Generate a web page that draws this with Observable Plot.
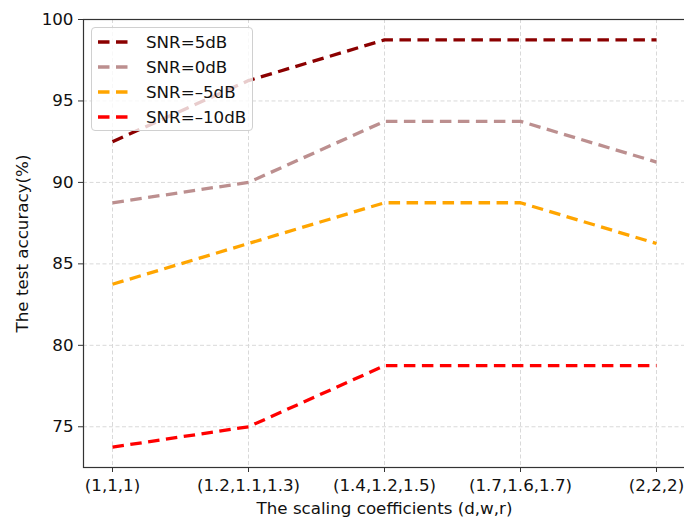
<!DOCTYPE html>
<html>
<head>
<meta charset="utf-8">
<script src="https://cdn.jsdelivr.net/npm/d3@7"></script>
<script src="https://cdn.jsdelivr.net/npm/@observablehq/plot@0.6"></script>
<style>
  body { margin: 0; background: #fff; font-family: "DejaVu Sans", sans-serif; }
  #wrap { position: relative; width: 684px; height: 521px; overflow: hidden; }
  #legend { position: absolute; left: 91px; top: 27px; width: 162px; height: 104px;
    border: 1px solid #d0d0d0; border-radius: 4px; background: rgba(255,255,255,0.8);
    box-sizing: border-box; }
  .row { position: absolute; left: 0; height: 20px; display: flex; align-items: center; }
  .row svg { margin-left: 6px; }
  .row span { margin-left: 16px; font-size: 16.7px; color: #111; }
</style>
</head>
<body>
<div id="wrap"><div id="legend"></div></div>
<script>
const categories = ["(1,1,1)", "(1.2,1.1,1.3)", "(1.4,1.2,1.5)", "(1.7,1.6,1.7)", "(2,2,2)"];
const seriesNames = ["SNR=5dB", "SNR=0dB", "SNR=\u20135dB", "SNR=\u201310dB"];
const seriesColors = ["#8b0000", "#bc8f8f", "#ffa500", "#ff0000"];
const snr5 = [92.5, 96.25, 98.75, 98.75, 98.75];
const snr0 = [88.75, 90, 93.75, 93.75, 91.25];
const snrm5 = [83.75, 86.25, 88.75, 88.75, 86.25];
const snrm10 = [73.75, 75, 78.75, 78.75, 78.75];
const yTicks = [75, 80, 85, 90, 95, 100];

const allSeries = [snr5, snr0, snrm5, snrm10];
const data = [];
allSeries.forEach((vals, si) => vals.forEach((v, i) => data.push({series: seriesNames[si], cat: categories[i], value: v})));

const dash = "11.5,6.5";
const fs = 16.7;
const chart = Plot.plot({
  width: 684,
  height: 521,
  marginLeft: 83,
  marginRight: -1,
  marginTop: 19,
  marginBottom: 54,
  style: {fontFamily: "DejaVu Sans, sans-serif", fontSize: fs + "px", color: "#111", background: "transparent"},
  x: {type: "point", domain: categories, padding: 0.2},
  y: {domain: [72.5, 100]},
  color: {domain: seriesNames, range: seriesColors},
  marks: [
    Plot.gridX({stroke: "#d9d9d9", strokeOpacity: 1, strokeDasharray: "4,2.5", strokeWidth: 1}),
    Plot.gridY(yTicks, {stroke: "#d9d9d9", strokeOpacity: 1, strokeDasharray: "4,2.5", strokeWidth: 1}),
    Plot.lineY(data, {x: "cat", y: "value", z: "series", stroke: "series", strokeWidth: 3.3, strokeDasharray: dash, strokeLinecap: "butt"}),
    Plot.frame({stroke: "#333", strokeWidth: 1.2}),
    Plot.axisX({tickSize: 5, tickPadding: 7, fontSize: fs, stroke: "#333", label: "The scaling coefficients (d,w,r)", labelAnchor: "center", labelArrow: "none", labelOffset: 46}),
    Plot.axisY(yTicks, {tickSize: 5, tickPadding: 5, fontSize: fs, stroke: "#333", label: "The test accuracy(%)", labelAnchor: "center", labelArrow: "none", labelOffset: 67})
  ]
});
document.getElementById("wrap").insertBefore(chart, document.getElementById("legend"));

const legend = document.getElementById("legend");
seriesNames.forEach((name, i) => {
  const row = document.createElement("div");
  row.className = "row";
  row.style.top = (4 + i * 25) + "px";
  row.innerHTML = `<svg width="32" height="6"><line x1="0" y1="3" x2="32" y2="3" stroke="${seriesColors[i]}" stroke-width="3.3" stroke-dasharray="${dash}"/></svg><span>${name}</span>`;
  legend.appendChild(row);
});
</script>
</body>
</html>
